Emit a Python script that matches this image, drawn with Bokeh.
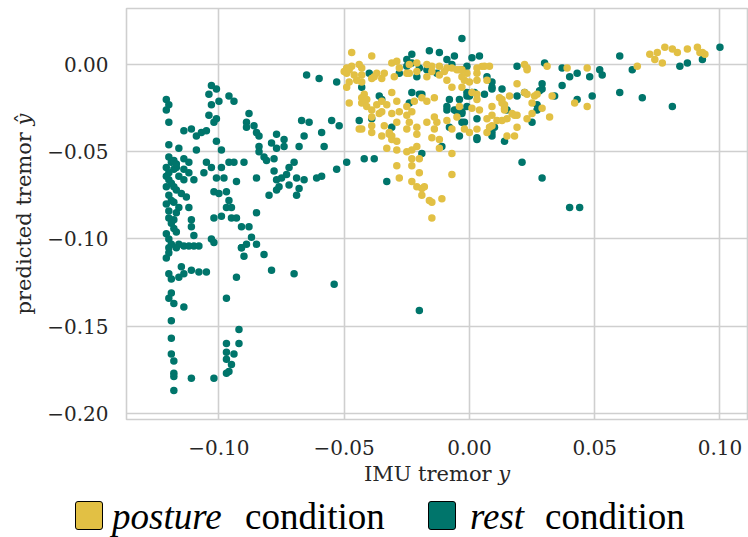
from bokeh.plotting import figure
from bokeh.layouts import column
from bokeh.models import Range1d, FixedTicker, CustomJSTickFormatter, Div
from bokeh.embed import file_html
from bokeh.resources import INLINE

# ---------------- data ----------------
rest_x = [
    -0.121, -0.120, -0.121, -0.120, -0.120, -0.116, -0.120, -0.121, -0.119, -0.118,
    -0.120, -0.118, -0.117, -0.120, -0.121, -0.118, -0.120, -0.119, -0.118, -0.120,
    -0.120, -0.118, -0.117, -0.116, -0.115, -0.114, -0.114, -0.114, -0.112, -0.112,
    -0.110, -0.113, -0.112, -0.111, -0.111, -0.110, -0.117, -0.119, -0.116, -0.114,
    -0.112, -0.108, -0.121, -0.119, -0.121, -0.119, -0.121, -0.117, -0.116, -0.118,
    -0.120, -0.117,
    -0.103, -0.101, -0.104, -0.100, -0.103, -0.096, -0.094, -0.104, -0.101, -0.102,
    -0.114, -0.111, -0.109, -0.107, -0.105, -0.101, -0.099, -0.109, -0.105, -0.103,
    -0.106, -0.101, -0.098, -0.099, -0.096, -0.094, -0.090, -0.093, -0.102, -0.100,
    -0.097, -0.096, -0.097, -0.095, -0.102, -0.099, -0.095, -0.093, -0.091, -0.088,
    -0.087, -0.085, -0.089, -0.091, -0.103, -0.102, -0.088, -0.089, -0.089, -0.086,
    -0.085, -0.084, -0.084, -0.084, -0.082, -0.081, -0.078, -0.085, -0.080, -0.078,
    -0.077, -0.075, -0.073, -0.072, -0.070, -0.069, -0.066, -0.072, -0.076, -0.077,
    -0.068, -0.069, -0.079, -0.077, -0.077, -0.074, -0.074, -0.068, -0.066, -0.067,
    -0.064, -0.085,
    -0.120, -0.121, -0.120, -0.117, -0.110, -0.120, -0.119, -0.116, -0.115, -0.114,
    -0.111, -0.108, -0.105, -0.119, -0.120, -0.118, -0.114, -0.119, -0.119, -0.119,
    -0.118, -0.118, -0.118, -0.118, -0.111, -0.102, -0.097, -0.093, -0.090, -0.091,
    -0.082, -0.079, -0.070, -0.092, -0.092, -0.097, -0.094, -0.097, -0.097, -0.095,
    -0.097, -0.096, -0.054, -0.020,
    -0.065, -0.060, -0.053, -0.055, -0.052, -0.059, -0.058, -0.044, -0.049, -0.053,
    -0.059, -0.061, -0.042, -0.038, -0.033, -0.019, -0.011, -0.040, -0.043, -0.035,
    -0.031, -0.039, -0.020, -0.009, -0.005, -0.003, -0.002, -0.004, -0.008, -0.025,
    -0.028, -0.021, -0.007, -0.003, -0.001, -0.004,
    -0.003, -0.016, -0.012, -0.006, 0.004, 0.001, -0.023, -0.025, 0.009, 0.013,
    0.009, 0.002, 0.000, 0.006, 0.015, 0.009, 0.009, 0.014, 0.003, 0.003,
    -0.003, -0.005, -0.001, 0.021, 0.029, 0.025, 0.019, 0.022, 0.028, 0.029,
    0.030, 0.019, 0.034, 0.037, 0.040, 0.043, 0.048, 0.049, 0.037, 0.052,
    0.053, 0.060, 0.060, 0.065, 0.069, 0.081, 0.084, 0.087, 0.093, 0.100,
    0.043, 0.027, 0.027, 0.040, 0.044,
    -0.001, 0.007, 0.009, -0.001, 0.001, 0.029, -0.003, 0.010, 0.009, 0.003,
    -0.023, -0.020, -0.017, -0.013, -0.009, -0.019, -0.009, -0.006, -0.008, -0.024,
    -0.023, -0.036,
]
rest_y = [
    -0.020, -0.023, -0.026, -0.033, -0.046, -0.048, -0.053, -0.059, -0.056, -0.055,
    -0.062, -0.060, -0.059, -0.066, -0.070, -0.070, -0.075, -0.078, -0.079, -0.084,
    -0.088, -0.089, -0.085, -0.082, -0.074, -0.066, -0.060, -0.054, -0.056, -0.062,
    -0.066, -0.076, -0.082, -0.089, -0.093, -0.098, -0.096, -0.103, -0.103, -0.104,
    -0.104, -0.104, -0.064, -0.068, -0.080, -0.091, -0.097, -0.072, -0.064, -0.094,
    -0.100, -0.057,
    -0.012, -0.014, -0.017, -0.021, -0.023, -0.018, -0.021, -0.029, -0.031, -0.033,
    -0.038, -0.037, -0.041, -0.039, -0.038, -0.044, -0.049, -0.049, -0.056, -0.059,
    -0.062, -0.065, -0.065, -0.059, -0.056, -0.056, -0.056, -0.067, -0.073, -0.074,
    -0.073, -0.078, -0.082, -0.082, -0.088, -0.087, -0.088, -0.088, -0.093, -0.093,
    -0.099, -0.103, -0.103, -0.105, -0.100, -0.102, -0.028, -0.033, -0.036, -0.035,
    -0.039, -0.041, -0.047, -0.050, -0.053, -0.055, -0.054, -0.065, -0.075, -0.061,
    -0.066, -0.065, -0.063, -0.059, -0.056, -0.065, -0.066, -0.069, -0.070, -0.072,
    -0.071, -0.075, -0.045, -0.040, -0.048, -0.043, -0.047, -0.047, -0.041, -0.032,
    -0.033, -0.085,
    -0.105, -0.111, -0.108, -0.105, -0.104, -0.120, -0.123, -0.122, -0.116, -0.120,
    -0.118, -0.119, -0.119, -0.131, -0.134, -0.137, -0.139, -0.147, -0.157, -0.166,
    -0.170, -0.177, -0.179, -0.187, -0.180, -0.180, -0.134, -0.122, -0.110, -0.105,
    -0.109, -0.118, -0.120, -0.152, -0.160, -0.160, -0.166, -0.165, -0.169, -0.172,
    -0.177, -0.176, -0.126, -0.141,
    -0.006, -0.008, -0.010, -0.032, -0.035, -0.039, -0.047, -0.032, -0.056, -0.060,
    -0.064, -0.065, -0.054, -0.054, -0.067, -0.051, -0.047, -0.005, -0.013, -0.020,
    -0.036, -0.031, -0.017, -0.026, -0.026, -0.027, -0.033, -0.041, -0.036, -0.001,
    -0.005, -0.007, 0.000, -0.003, -0.018, -0.020,
    0.015, 0.008, 0.007, 0.005, 0.005, 0.004, 0.006, 0.003, -0.010, -0.014,
    -0.014, -0.016, -0.018, -0.017, -0.026, -0.036, -0.041, -0.044, -0.043, -0.031,
    -0.033, -0.027, -0.024, -0.056, -0.065, -0.033, -0.018, -0.016, -0.015, -0.011,
    0.001, -0.001, -0.018, -0.012, -0.007, -0.005, -0.007, -0.018, -0.002, -0.003,
    -0.006, 0.005, -0.016, -0.003, -0.019, -0.024, -0.001, 0.001, 0.003, 0.010,
    -0.020, -0.023, -0.026, -0.082, -0.082,
    -0.001, -0.007, -0.013, -0.016, -0.016, -0.014, -0.028, -0.036, -0.039, -0.042,
    0.001, -0.002, -0.003, -0.005, 0.003, -0.017, -0.024, -0.026, -0.020, -0.022,
    -0.016, -0.018,
]

posture_x = [
    -0.049, -0.047, -0.044, -0.049, -0.046, -0.043, -0.048, -0.049, -0.045, -0.043,
    -0.038, -0.035, -0.037, -0.034, -0.030, -0.028, -0.048, -0.044, -0.042, -0.041,
    -0.043, -0.039, -0.037, -0.035, -0.039, -0.036, -0.033, -0.031, -0.029, -0.031,
    -0.028, -0.025, -0.023, -0.022, -0.019, -0.017, -0.014, -0.025, -0.024, -0.021,
    -0.021, -0.025, -0.029, -0.034, -0.035, -0.039, -0.032, -0.031, -0.033, -0.029,
    -0.025, -0.023, -0.023, -0.020, -0.029, -0.028, -0.023, -0.020, -0.023, -0.021,
    -0.019, -0.018, -0.019, -0.016, -0.015, -0.011, -0.015, -0.007, -0.007, -0.012,
    -0.012, -0.015, -0.014, -0.013, -0.014, -0.017, -0.009, -0.007, -0.005, -0.004,
    -0.002, -0.003, -0.007, -0.009, -0.012, -0.015, -0.017, -0.009, -0.005, -0.002,
    -0.001, -0.021, -0.024,
    -0.047, -0.039, -0.050, -0.048, -0.043, -0.039, -0.031, -0.029, -0.025, -0.024,
    -0.021, -0.017, -0.015, -0.012, -0.010, -0.007, -0.004, 0.003, 0.005, 0.008,
    -0.043, -0.041, -0.043, -0.035, -0.039, -0.032, -0.031, -0.029, -0.021, 0.000,
    0.003, 0.007, 0.009, 0.007, 0.011, 0.013, 0.017, 0.019, 0.015, 0.018,
    0.019, 0.009, 0.013, 0.014, 0.012, 0.016, 0.019, 0.023, 0.025, 0.026,
    0.029, 0.032, 0.022, 0.023, 0.031, 0.033, 0.039, 0.042, 0.047, 0.047,
    0.067, 0.072, 0.074, 0.077, 0.075, 0.078, 0.081, 0.083, 0.087, 0.091,
    0.092, 0.094, 0.093,
    0.006, 0.023, 0.027, 0.022, 0.013, 0.014, 0.014, 0.025, 0.018, 0.004,
    0.001, 0.009, 0.015, 0.023, 0.008, 0.007, 0.003, 0.003, 0.000, -0.003,
    -0.003, 0.001, 0.003, 0.003,
]
posture_y = [
    -0.002, -0.001, 0.000, -0.005, -0.006, -0.006, -0.010, -0.013, -0.009, -0.010,
    -0.007, -0.008, -0.005, -0.005, -0.007, -0.002, -0.022, -0.037, -0.017, -0.020,
    -0.022, -0.026, -0.023, -0.021, -0.030, -0.028, -0.023, -0.016, -0.021, -0.028,
    -0.027, -0.024, -0.027, -0.021, -0.019, -0.021, -0.019, -0.029, -0.033, -0.036,
    -0.040, -0.037, -0.033, -0.035, -0.041, -0.039, -0.040, -0.043, -0.048, -0.049,
    -0.050, -0.049, -0.054, -0.054, -0.058, -0.065, -0.058, -0.062, -0.067, -0.070,
    -0.071, -0.070, -0.075, -0.078, -0.079, -0.077, -0.088, -0.063, -0.051, -0.048,
    -0.043, -0.042, -0.037, -0.033, -0.030, -0.033, -0.032, -0.037, -0.030, -0.024,
    -0.037, -0.013, -0.013, -0.009, -0.006, -0.004, -0.007, -0.002, -0.003, -0.009,
    -0.005, -0.004, -0.005,
    0.007, 0.005, -0.004, -0.003, -0.002, -0.008, 0.001, 0.002, -0.005, 0.000,
    0.001, 0.000, -0.001, -0.001, -0.004, -0.002, -0.003, -0.002, -0.001, -0.001,
    -0.019, -0.024, -0.037, -0.027, -0.035, -0.039, -0.041, -0.044, -0.047, -0.039,
    -0.037, -0.039, -0.035, -0.031, -0.032, -0.032, -0.028, -0.029, -0.041, -0.041,
    -0.036, -0.024, -0.022, -0.025, -0.019, -0.018, -0.011, -0.017, -0.022, -0.018,
    -0.025, -0.030, 0.000, -0.002, -0.001, -0.018, -0.002, -0.022, -0.024, -0.002,
    -0.001, 0.006, 0.003, 0.001, 0.007, 0.010, 0.009, 0.007, 0.009, 0.010,
    0.007, 0.006, 0.007,
    -0.001, -0.003, -0.017, -0.016, -0.020, -0.023, -0.026, -0.028, -0.029, -0.026,
    -0.025, -0.029, -0.031, -0.031, -0.036, -0.009, -0.005, -0.009, -0.010, -0.003,
    -0.007, -0.016, -0.017, -0.020,
]

x_ticks = [-0.10, -0.05, 0.0, 0.05, 0.10]
y_ticks = [0.0, -0.05, -0.10, -0.15, -0.20]
x_label = "IMU tremor 𝑦"
y_label = "predicted tremor 𝑦̂"
legend_styled = ["posture", "rest"]
legend_plain = ["condition", "condition"]
legend_colors = ["#e2c044", "#00756b"]

POSTURE = legend_colors[0]
REST = legend_colors[1]
GRID = "#cfcfcf"
TXT = "#262626"
SERIF = "DejaVu Serif"

p = figure(width=748, height=490,
           x_range=Range1d(-0.1369, 0.1110), y_range=Range1d(-0.2036, 0.0322),
           output_backend="svg", toolbar_location=None,
           min_border_left=126, min_border_right=1,
           min_border_top=8, min_border_bottom=71)
p.background_fill_color = "white"
p.border_fill_color = "white"
p.outline_line_color = GRID
p.outline_line_width = 1.6

p.xaxis.ticker = FixedTicker(ticks=x_ticks)
p.yaxis.ticker = FixedTicker(ticks=y_ticks)
p.xgrid.ticker = FixedTicker(ticks=x_ticks)
p.ygrid.ticker = FixedTicker(ticks=y_ticks)
p.grid.grid_line_color = GRID
p.grid.grid_line_width = 1.6

fmt = CustomJSTickFormatter(code="return tick.toFixed(2).replace('-', '\u2212');")
for ax in (p.xaxis[0], p.yaxis[0]):
    ax.formatter = fmt
    ax.axis_line_color = None
    ax.major_tick_line_color = None
    ax.minor_tick_line_color = None
    ax.major_tick_out = 0
    ax.major_tick_in = 0
    ax.major_label_text_font = SERIF
    ax.major_label_text_font_size = "20px"
    ax.major_label_text_color = TXT
    ax.axis_label_text_font = SERIF
    ax.axis_label_text_font_size = "21px"
    ax.axis_label_text_font_style = "normal"
    ax.axis_label_text_color = TXT

p.xaxis.axis_label = x_label
p.yaxis.axis_label = y_label
p.xaxis.major_label_standoff = 20
p.yaxis.major_label_standoff = 18
p.xaxis.axis_label_standoff = 4
p.yaxis.axis_label_standoff = 8

p.scatter(rest_x, rest_y, size=7.5, fill_color=REST, line_color=None)
p.scatter(posture_x, posture_y, size=7.5, fill_color=POSTURE, line_color=None)

# ---------------- legend strip (HTML, real text with mixed styles) ----------------
box_left = [75, 428]
styled_left = [112, 470]
plain_left = [245, 545]
parts = []
for i in range(2):
    parts.append(
        f'<div style="position:absolute;left:{box_left[i]}px;top:11px;width:28px;height:29px;'
        f'box-sizing:border-box;background:{legend_colors[i]};border:1.5px solid #000;'
        f'border-radius:3px;"></div>')
    parts.append(
        f'<span style="position:absolute;left:{styled_left[i]}px;top:10px;line-height:0.9;'
        f'font-style:italic;">{legend_styled[i]}</span>')
    parts.append(
        f'<span style="position:absolute;left:{plain_left[i]}px;top:10px;line-height:0.9;">'
        f'{legend_plain[i]}</span>')
legend_html = (
    '<div style="position:relative;width:748px;height:47px;margin:0;padding:0;'
    "font-family:'Liberation Serif',serif;font-size:37px;color:#000;white-space:nowrap;\">"
    + "".join(parts) + "</div>")
leg = Div(text=legend_html, width=748, height=47, margin=0)

layout = column(p, leg, spacing=0)
open("out.html", "w").write(file_html(layout, INLINE))
